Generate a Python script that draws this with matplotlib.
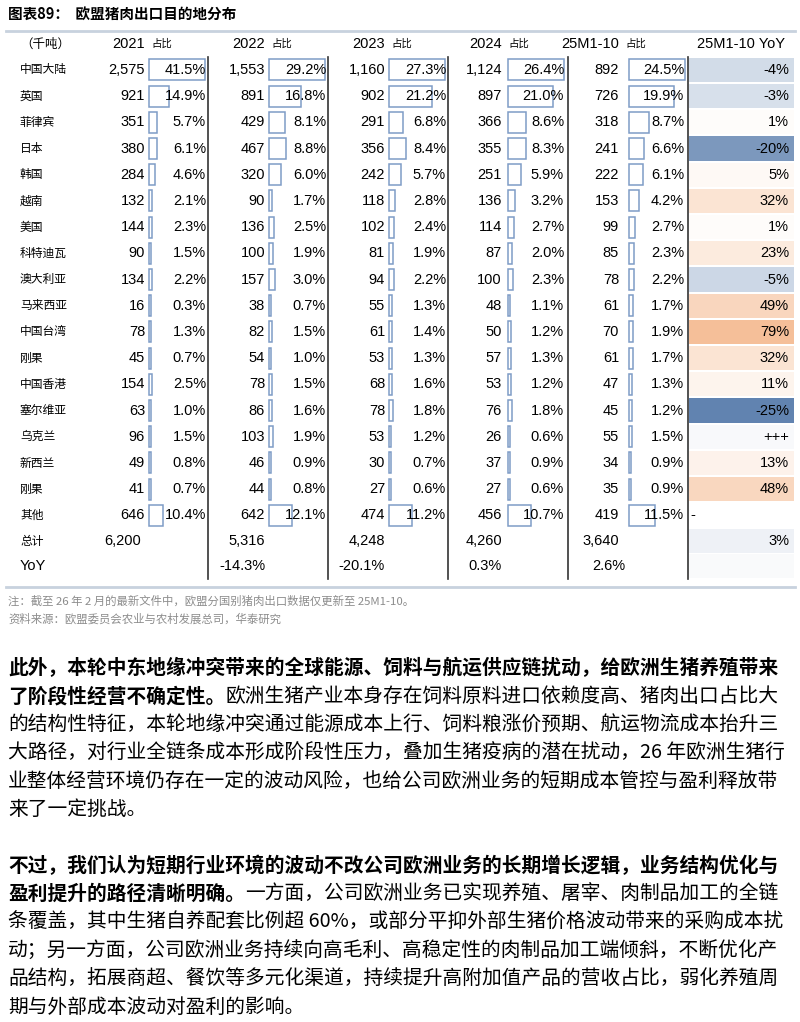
import numpy as np
import matplotlib as mpl
mpl.use("Agg")
import matplotlib.pyplot as plt
from matplotlib.patches import Rectangle
from matplotlib.colors import to_rgb

plt.rcParams["font.family"] = ["Liberation Sans", "Noto Sans CJK SC", "DejaVu Sans"]
CJK = ["Noto Sans CJK SC", "DejaVu Sans"]

# ---------------- 数据 ----------------
countries = ["中国大陆", "英国", "菲律宾", "日本", "韩国", "越南", "美国", "科特迪瓦", "澳大利亚",
             "马来西亚", "中国台湾", "刚果", "中国香港", "塞尔维亚", "乌克兰", "新西兰", "刚果", "其他"]
periods = ["2021", "2022", "2023", "2024", "25M1-10"]
vol_2021 = [2575, 921, 351, 380, 284, 132, 144, 90, 134, 16, 78, 45, 154, 63, 96, 49, 41, 646]
shr_2021 = [41.5, 14.9, 5.7, 6.1, 4.6, 2.1, 2.3, 1.5, 2.2, 0.3, 1.3, 0.7, 2.5, 1.0, 1.5, 0.8, 0.7, 10.4]
vol_2022 = [1553, 891, 429, 467, 320, 90, 136, 100, 157, 38, 82, 54, 78, 86, 103, 46, 44, 642]
shr_2022 = [29.2, 16.8, 8.1, 8.8, 6.0, 1.7, 2.5, 1.9, 3.0, 0.7, 1.5, 1.0, 1.5, 1.6, 1.9, 0.9, 0.8, 12.1]
vol_2023 = [1160, 902, 291, 356, 242, 118, 102, 81, 94, 55, 61, 53, 68, 78, 53, 30, 27, 474]
shr_2023 = [27.3, 21.2, 6.8, 8.4, 5.7, 2.8, 2.4, 1.9, 2.2, 1.3, 1.4, 1.3, 1.6, 1.8, 1.2, 0.7, 0.6, 11.2]
vol_2024 = [1124, 897, 366, 355, 251, 136, 114, 87, 100, 48, 50, 57, 53, 76, 26, 37, 27, 456]
shr_2024 = [26.4, 21.0, 8.6, 8.3, 5.9, 3.2, 2.7, 2.0, 2.3, 1.1, 1.2, 1.3, 1.2, 1.8, 0.6, 0.9, 0.6, 10.7]
vol_2025 = [892, 726, 318, 241, 222, 153, 99, 85, 78, 61, 70, 61, 47, 45, 55, 34, 35, 419]
shr_2025 = [24.5, 19.9, 8.7, 6.6, 6.1, 4.2, 2.7, 2.3, 2.2, 1.7, 1.9, 1.7, 1.3, 1.2, 1.5, 0.9, 0.9, 11.5]
yoy = [-4, -3, 1, -20, 5, 32, 1, 23, -5, 49, 79, 32, 11, -25, "+++", 13, 48, "-"]
totals = [6200, 5316, 4248, 4260, 3640]
total_yoy = 3
total_growth = ["", "-14.3%", "-20.1%", "0.3%", "2.6%"]

vols = [vol_2021, vol_2022, vol_2023, vol_2024, vol_2025]
shrs = [shr_2021, shr_2022, shr_2023, shr_2024, shr_2025]

para1 = [
    [("此外，本轮中东地缘冲突带来的全球能源、饲料与航运供应链扰动，给欧洲生猪养殖带来", True)],
    [("了阶段性经营不确定性。", True), ("欧洲生猪产业本身存在饲料原料进口依赖度高、猪肉出口占比大", False)],
    [("的结构性特征，本轮地缘冲突通过能源成本上行、饲料粮涨价预期、航运物流成本抬升三", False)],
    [("大路径，对行业全链条成本形成阶段性压力，叠加生猪疫病的潜在扰动，26 年欧洲生猪行", False)],
    [("业整体经营环境仍存在一定的波动风险，也给公司欧洲业务的短期成本管控与盈利释放带", False)],
    [("来了一定挑战。", False)],
]
para2 = [
    [("不过，我们认为短期行业环境的波动不改公司欧洲业务的长期增长逻辑，业务结构优化与", True)],
    [("盈利提升的路径清晰明确。", True), ("一方面，公司欧洲业务已实现养殖、屠宰、肉制品加工的全链", False)],
    [("条覆盖，其中生猪自养配套比例超 60%，或部分平抑外部生猪价格波动带来的采购成本扰", False)],
    [("动；另一方面，公司欧洲业务持续向高毛利、高稳定性的肉制品加工端倾斜，不断优化产", False)],
    [("品结构，拓展商超、餐饮等多元化渠道，持续提升高附加值产品的营收占比，弱化养殖周", False)],
    [("期与外部成本波动对盈利的影响。", False)],
]

# ---------------- 画布 ----------------
fig = plt.figure(figsize=(8, 10.22), dpi=100)
ax = fig.add_axes([0, 0, 1, 1])
ax.set_xlim(0, 800)
ax.set_ylim(1022, 0)
ax.axis("off")

ax.text(8, 14, "图表89：  欧盟猪肉出口目的地分布", family=CJK, fontsize=10.5, weight="bold", va="center")
ax.plot([6, 795], [31, 31], color="#c8d2de", lw=2)

row0 = 70
step = 26.2
col_num_r = [145, 265, 385, 502, 619]
col_pct_r = [206, 326, 446, 564, 684]
bar_x0 = [149, 269, 389, 508, 629]
sep_x = [207.5, 327.5, 447.5, 567.5, 687.5]
bar_w = 56
fs = 10.5

# 表头
hy = 44
ax.text(20, hy, "（千吨）", family=CJK, fontsize=9, va="center")
for j, p in enumerate(periods):
    ax.text(col_num_r[j], hy, p, fontsize=fs, ha="right", va="center")
    ax.text(col_num_r[j] + 6, hy, "占比", family=CJK, fontsize=7.5, ha="left", va="center")
ax.text(741, hy, "25M1-10 YoY", fontsize=fs, ha="center", va="center")

neg_c = np.array(to_rgb("#6183b0"))
pos_c = np.array(to_rgb("#f5bf99"))
white = np.array([1, 1, 1])


def yoy_color(v):
    if v < 0:
        t = min(abs(v) / 25, 1)
        return white + (neg_c - white) * (0.15 + 0.85 * t)
    t = min(v / 79, 1)
    return white + (pos_c - white) * (0.04 + 0.96 * t)


def yoy_cell(y, color):
    ax.add_patch(Rectangle((688.5, y - step / 2 + 1), 105, step - 2, facecolor=color, lw=0))


n = len(countries)
for i in range(n):
    y = row0 + i * step
    ax.text(20, y, countries[i], family=CJK, fontsize=8.5, va="center")
    for j in range(5):
        ax.text(col_num_r[j], y, f"{vols[j][i]:,}", fontsize=fs, ha="right", va="center")
        w = shrs[j][i] / max(shrs[j]) * bar_w
        ax.add_patch(Rectangle((bar_x0[j], y - 10.5), max(w, 1.5), 21, facecolor="white",
                               edgecolor="#7f9cc6", lw=1.1, zorder=1))
        ax.text(col_pct_r[j], y, f"{shrs[j][i]:.1f}%", fontsize=fs, ha="right", va="center", zorder=3)
    v = yoy[i]
    if isinstance(v, str):
        if v == "-":
            ax.text(690, y, "-", fontsize=fs, ha="left", va="center")
        else:
            yoy_cell(y, "#f8f9fb")
            ax.text(789, y, v, fontsize=fs, ha="right", va="center")
    else:
        yoy_cell(y, yoy_color(v))
        ax.text(789, y, f"{v}%", fontsize=fs, ha="right", va="center")

yt = 541
ax.text(20, yt, "总计", family=CJK, fontsize=8.5, va="center")
for j in range(5):
    ax.text(col_num_r[j] if j else 104, yt, f"{totals[j]:,}", fontsize=fs,
            ha="right" if j else "left", va="center")
yoy_cell(yt, "#eef1f6")
ax.text(789, yt, f"{total_yoy}%", fontsize=fs, ha="right", va="center")

yg = 566
ax.text(20, yg, "YoY", fontsize=fs, va="center")
for j in range(1, 5):
    ax.text(col_num_r[j] + 6 if j == 4 else col_num_r[j], yg, total_growth[j], fontsize=fs,
            ha="right", va="center")
yoy_cell(yg, "#f9fafb")

for x in sep_x:
    ax.plot([x, x], [row0 - 13, yg + 13], color="#333333", lw=1.2)
ax.plot([6, 795], [587, 587], color="#c8d2de", lw=2)

ax.text(8, 601, "注：截至 26 年 2 月的最新文件中，欧盟分国别猪肉出口数据仅更新至 25M1-10。",
        family=CJK, fontsize=8.2, color="#8c8c8c", va="center")
ax.text(8, 619, "资料来源：欧盟委员会农业与农村发展总司，华泰研究",
        family=CJK, fontsize=8.2, color="#8c8c8c", va="center")

# ---------------- 正文 ----------------
fig.canvas.draw()
renderer = fig.canvas.get_renderer()
inv = ax.transData.inverted()


def draw_line(segs, y):
    x = 8
    for s, b in segs:
        t = ax.text(x, y, s, family=CJK, fontsize=14.2, weight="bold" if b else "normal",
                    va="center", color="black")
        bb = t.get_window_extent(renderer)
        x = inv.transform((bb.x1, bb.y0))[0]


for k, segs in enumerate(para1):
    draw_line(segs, 668 + k * 28.3)
for k, segs in enumerate(para2):
    draw_line(segs, 866 + k * 28.3)

fig.savefig("out.png", dpi=100)
